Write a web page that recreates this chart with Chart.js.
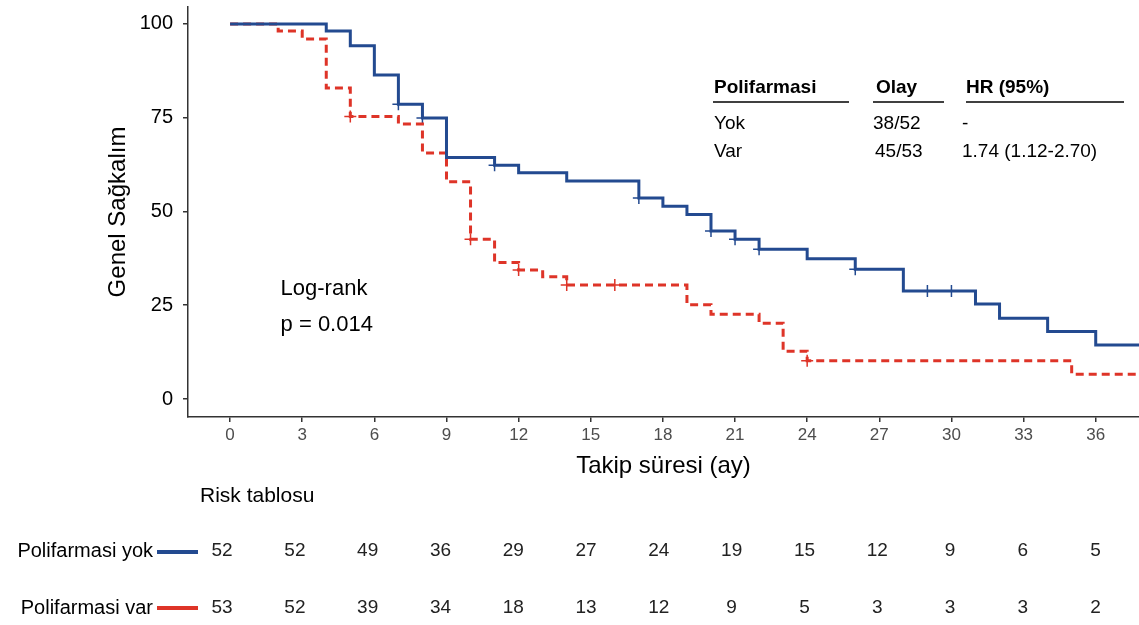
<!DOCTYPE html>
<html>
<head>
<meta charset="utf-8">
<script src="https://cdn.jsdelivr.net/npm/chart.js@4/dist/chart.umd.min.js"></script>
<style>
	body { margin: 0; background: #fff; }
</style>
</head>
<body>
<canvas id="graficoSagkalim" width="1139" height="625"></canvas>
<script>

	// eixos
	var xTicks = [0, 3, 6, 9, 12, 15, 18, 21, 24, 27, 30, 33, 36];
	var yTicks = [0, 25, 50, 75, 100];

	// curva polifarmasi yok (tempo em meses, sobrevida %)
	var tempoYok = [0, 4, 5, 6, 7, 8, 9, 11, 12, 14, 17, 18, 19, 20, 21, 22, 24, 26, 28, 31, 32, 34, 36, 37.8];
	var sobrevidaYok = [100, 98.1, 94.2, 86.4, 78.6, 74.9, 64.4, 62.3, 60.3, 58.1, 53.6, 51.4, 49.2, 44.8, 42.6, 39.9, 37.4, 34.6, 28.8, 25.3, 21.5, 18.0, 14.4, 14.4];
	var censuraTempoYok = [7, 8, 11, 17, 20, 21, 22, 26, 29, 30];
	var censuraValorYok = [78.6, 74.9, 62.3, 53.6, 44.8, 42.6, 39.9, 34.6, 28.8, 28.8];

	// curva polifarmasi var
	var tempoVar = [0, 2, 3, 4, 5, 7, 8, 9, 10, 11, 12, 13, 14, 19, 20, 22, 23, 24, 35, 37.8];
	var sobrevidaVar = [100, 98.1, 96.0, 82.9, 75.3, 73.3, 65.6, 57.9, 42.6, 36.4, 34.4, 32.6, 30.4, 25.1, 22.6, 20.2, 12.7, 10.2, 6.6, 6.6];
	var censuraTempoVar = [5, 10, 12, 14, 16, 24];
	var censuraValorVar = [75.3, 42.6, 34.4, 30.4, 30.4, 10.2];

	// tabela de risco
	var riskTempos = [0, 3, 6, 9, 12, 15, 18, 21, 24, 27, 30, 33, 36];
	var riskYok = [52, 52, 49, 36, 29, 27, 24, 19, 15, 12, 9, 6, 5];
	var riskVar = [53, 52, 39, 34, 18, 13, 12, 9, 5, 3, 3, 3, 2];

	// tabela HR
	var tabelaCabecalho = ['Polifarmasi', 'Olay', 'HR (95%)'];
	var tabelaYok = ['Yok', '38/52', '-'];
	var tabelaVar = ['Var', '45/53', '1.74 (1.12-2.70)'];

	var corYok = '#234a90';
	var corVar = '#de3428';
	var fonte = '"Liberation Sans", Arial, Helvetica, sans-serif';

	var montarPontos = function(xs, ys){
		var pontos = [];
		for (i = 0; i < xs.length; i++) {
			pontos.push({ x: xs[i], y: ys[i] });
		}
		return pontos;
	};

	var escrever = function(ctx, texto, x, y, alinhamento, font, cor){
		ctx.font = font;
		ctx.fillStyle = cor || '#000';
		ctx.textAlign = alinhamento;
		ctx.textBaseline = 'middle';
		ctx.fillText(texto, x, y);
	};

	var textosPlugin = {
		id: 'textos',
		afterDraw: function(chart){
			var ctx = chart.ctx;
			var xs = chart.scales.x;
			var ys = chart.scales.y;
			ctx.save();

			// log-rank
			escrever(ctx, 'Log-rank', xs.getPixelForValue(2.1), ys.getPixelForValue(29.3), 'left', '22px ' + fonte);
			escrever(ctx, 'p = 0.014', xs.getPixelForValue(2.1), ys.getPixelForValue(19.7), 'left', '22px ' + fonte);

			// tabela HR
			var colunas = [714, 876, 966];
			var linhas = [[713, 849], [873, 944], [966, 1124]];
			for (i = 0; i < tabelaCabecalho.length; i++) {
				escrever(ctx, tabelaCabecalho[i], colunas[i], 88, 'left', 'bold 19px ' + fonte);
				ctx.strokeStyle = '#000';
				ctx.lineWidth = 1.5;
				ctx.beginPath();
				ctx.moveTo(linhas[i][0], 102);
				ctx.lineTo(linhas[i][1], 102);
				ctx.stroke();
			}
			var colunasYok = [714, 873, 962];
			var colunasVar = [714, 875, 962];
			for (i = 0; i < tabelaYok.length; i++) {
				escrever(ctx, tabelaYok[i], colunasYok[i], 124, 'left', '19px ' + fonte);
				escrever(ctx, tabelaVar[i], colunasVar[i], 152, 'left', '19px ' + fonte);
			}

			// tabela de risco
			escrever(ctx, 'Risk tablosu', 200, 496, 'left', '21px ' + fonte);
			escrever(ctx, 'Polifarmasi yok', 153, 551, 'right', '20px ' + fonte);
			escrever(ctx, 'Polifarmasi var', 153, 608, 'right', '20px ' + fonte);

			ctx.lineWidth = 4;
			ctx.strokeStyle = corYok;
			ctx.beginPath();
			ctx.moveTo(157, 552);
			ctx.lineTo(198, 552);
			ctx.stroke();
			ctx.strokeStyle = corVar;
			ctx.beginPath();
			ctx.moveTo(157, 608);
			ctx.lineTo(198, 608);
			ctx.stroke();

			for (i = 0; i < riskTempos.length; i++) {
				var t = riskTempos[i];
				var px = xs.getPixelForValue(t) - 8 + t * 0.22;
				escrever(ctx, String(riskYok[i]), px, 551, 'center', '19px ' + fonte, '#222');
				escrever(ctx, String(riskVar[i]), px, 608, 'center', '19px ' + fonte, '#222');
			}

			ctx.restore();
		}
	};

	var data = {
		datasets: [{
			label: 'Polifarmasi yok',
			data: montarPontos(tempoYok, sobrevidaYok),
			stepped: true,
			borderColor: corYok,
			borderWidth: 3,
			pointRadius: 0,
			fill: false
		}, {
			label: 'Polifarmasi var',
			data: montarPontos(tempoVar, sobrevidaVar),
			stepped: true,
			borderColor: corVar,
			borderWidth: 3,
			borderDash: [8, 5],
			pointRadius: 0,
			fill: false
		}, {
			type: 'scatter',
			label: 'Censura yok',
			data: montarPontos(censuraTempoYok, censuraValorYok),
			pointStyle: 'cross',
			pointRadius: 6,
			borderColor: corYok,
			pointBorderWidth: 1.5
		}, {
			type: 'scatter',
			label: 'Censura var',
			data: montarPontos(censuraTempoVar, censuraValorVar),
			pointStyle: 'cross',
			pointRadius: 6,
			borderColor: corVar,
			pointBorderWidth: 1.5
		}]
	};

	var graficoSagkalim = new Chart(document.getElementById('graficoSagkalim'), {
		type: 'line',
		data: data,
		plugins: [textosPlugin],
		options: {
			responsive: false,
			animation: false,
			layout: { autoPadding: false, padding: { left: 104, top: 7, right: 0, bottom: 144 } },
			plugins: {
				legend: { display: false },
				tooltip: { enabled: false }
			},
			scales: {
				x: {
					type: 'linear',
					min: -1.75,
					max: 37.8,
					afterBuildTicks: function(scale){
						scale.ticks = xTicks.map(function(v){ return { value: v }; });
					},
					afterFit: function(scale){
						scale.height = 64;
						scale.paddingLeft = 0;
						scale.paddingRight = 0;
					},
					grid: { drawOnChartArea: false, drawTicks: true, tickLength: 5, color: '#333', lineWidth: 1.5 },
					border: { display: true, color: '#333', width: 1.5 },
					ticks: { color: '#4d4d4d', font: { family: fonte, size: 17 }, padding: 3, maxRotation: 0 },
					title: { display: true, text: 'Takip süresi (ay)', color: '#000', font: { family: fonte, size: 24 }, padding: 0 }
				},
				y: {
					min: -4.8,
					max: 104.5,
					afterBuildTicks: function(scale){
						scale.ticks = yTicks.map(function(v){ return { value: v }; });
					},
					afterFit: function(scale){
						scale.width = 84;
						scale.paddingTop = 0;
						scale.paddingBottom = 0;
					},
					grid: { drawOnChartArea: false, drawTicks: true, tickLength: 5, color: '#333', lineWidth: 1.5 },
					border: { display: true, color: '#333', width: 1.5 },
					ticks: { color: '#000', font: { family: fonte, size: 20 }, padding: 10 },
					title: { display: true, text: 'Genel Sağkalım', color: '#000', font: { family: fonte, size: 24 }, padding: 0 }
				}
			}
		}
	});

</script>
</body>
</html>
